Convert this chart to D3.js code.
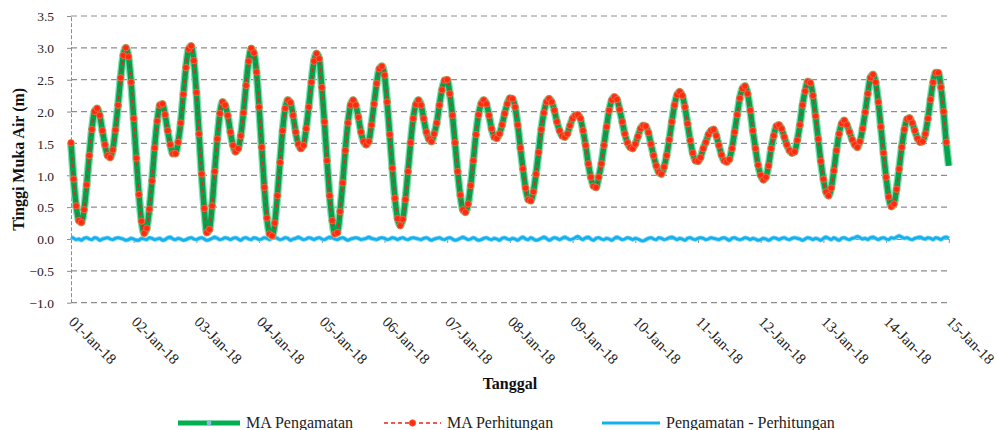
<!DOCTYPE html>
<html>
<head>
<meta charset="utf-8">
<script src="https://cdn.jsdelivr.net/npm/d3@7"></script>
<style>
  html, body { margin: 0; padding: 0; background: #ffffff; }
  svg { display: block; }
  svg text { font-family: "Liberation Serif", "DejaVu Serif", "Times New Roman", serif; }
</style>
</head>
<body>
<script>
// ---- Data (hourly, 01-Jan-18 00:00 .. 15-Jan-18 00:00) ----
const startDate = new Date(2018, 0, 1, 0, 0);
const dayTicks = ["01-Jan-18","02-Jan-18","03-Jan-18","04-Jan-18","05-Jan-18","06-Jan-18","07-Jan-18",
                  "08-Jan-18","09-Jan-18","10-Jan-18","11-Jan-18","12-Jan-18","13-Jan-18","14-Jan-18","15-Jan-18"];
const yTicks = [-1.0,-0.5,0.0,0.5,1.0,1.5,2.0,2.5,3.0,3.5];
const seriesNames = ["MA Pengamatan","MA Perhitungan","Pengamatan - Perhitungan"];

// MA Pengamatan (observed water level, m)
const maPengamatan = [
1.51,0.94,0.52,0.29,0.26,0.46,0.85,1.31,1.72,2.00,2.05,1.94,1.70,1.48,1.31,1.28,1.40,1.71,2.10,2.53,2.88,3.00,2.86,2.46,
1.89,1.27,0.70,0.28,0.09,0.17,0.47,0.91,1.43,1.85,2.10,2.12,1.95,1.70,1.48,1.34,1.34,1.52,1.82,2.27,2.69,2.98,3.03,2.80,
2.30,1.65,1.02,0.48,0.10,0.15,0.52,1.06,1.57,1.97,2.15,2.10,1.94,1.68,1.47,1.37,1.42,1.62,1.98,2.41,2.79,2.99,2.92,2.62,
2.07,1.44,0.81,0.33,0.08,0.05,0.25,0.68,1.20,1.70,2.05,2.18,2.14,1.94,1.68,1.49,1.42,1.47,1.73,2.07,2.46,2.79,2.91,2.83,
2.38,1.84,1.23,0.68,0.29,0.08,0.10,0.43,0.88,1.39,1.82,2.10,2.18,2.10,1.91,1.68,1.53,1.48,1.53,1.79,2.12,2.44,2.67,2.71,
2.57,2.15,1.64,1.11,0.64,0.32,0.21,0.31,0.62,1.06,1.51,1.89,2.11,2.18,2.10,1.89,1.68,1.57,1.53,1.65,1.82,2.10,2.34,2.49,
2.50,2.28,1.94,1.51,1.06,0.69,0.46,0.42,0.55,0.84,1.23,1.64,1.95,2.12,2.18,2.12,1.94,1.73,1.60,1.58,1.65,1.79,1.97,2.12,
2.21,2.20,2.07,1.79,1.43,1.10,0.80,0.62,0.60,0.74,1.02,1.36,1.72,1.98,2.15,2.20,2.15,2.02,1.84,1.70,1.62,1.60,1.65,1.78,
1.89,1.94,1.95,1.89,1.70,1.47,1.18,0.97,0.83,0.81,0.97,1.18,1.47,1.76,2.02,2.18,2.23,2.19,2.03,1.84,1.65,1.51,1.44,1.42,
1.49,1.61,1.73,1.78,1.77,1.67,1.49,1.31,1.15,1.05,1.02,1.13,1.31,1.56,1.84,2.10,2.26,2.31,2.25,2.07,1.81,1.55,1.35,1.23,
1.22,1.28,1.42,1.52,1.64,1.70,1.72,1.62,1.47,1.32,1.23,1.21,1.25,1.42,1.68,1.95,2.21,2.36,2.40,2.28,2.02,1.70,1.42,1.16,
1.00,0.93,0.97,1.15,1.42,1.62,1.77,1.79,1.73,1.60,1.48,1.39,1.35,1.37,1.55,1.79,2.10,2.32,2.47,2.45,2.25,1.93,1.57,1.22,
0.94,0.74,0.68,0.80,1.07,1.39,1.65,1.81,1.86,1.79,1.68,1.56,1.48,1.44,1.53,1.73,1.99,2.28,2.53,2.58,2.46,2.15,1.76,1.35,
0.97,0.66,0.51,0.55,0.78,1.10,1.44,1.72,1.88,1.90,1.82,1.70,1.58,1.52,1.53,1.65,1.89,2.19,2.46,2.61,2.61,2.38,2.00,1.52,
1.15
];

// MA Perhitungan (computed water level, m)
const maPerhitungan = [
1.51,0.94,0.52,0.29,0.26,0.46,0.85,1.31,1.72,2.00,2.05,1.94,1.70,1.48,1.31,1.28,1.40,1.71,2.10,2.53,2.88,3.00,2.86,2.46,
1.89,1.27,0.70,0.28,0.09,0.17,0.47,0.91,1.43,1.85,2.10,2.12,1.95,1.70,1.48,1.34,1.34,1.52,1.82,2.27,2.69,2.98,3.03,2.80,
2.30,1.65,1.02,0.48,0.10,0.15,0.52,1.06,1.57,1.97,2.15,2.10,1.94,1.68,1.47,1.37,1.42,1.62,1.98,2.41,2.79,2.99,2.92,2.62,
2.07,1.44,0.81,0.33,0.08,0.05,0.25,0.68,1.20,1.70,2.05,2.18,2.14,1.94,1.68,1.49,1.42,1.47,1.73,2.07,2.46,2.79,2.91,2.83,
2.38,1.84,1.23,0.68,0.29,0.08,0.10,0.43,0.88,1.39,1.82,2.10,2.18,2.10,1.91,1.68,1.53,1.48,1.53,1.79,2.12,2.44,2.67,2.71,
2.57,2.15,1.64,1.11,0.64,0.32,0.21,0.31,0.62,1.06,1.51,1.89,2.11,2.18,2.10,1.89,1.68,1.57,1.53,1.65,1.82,2.10,2.34,2.49,
2.50,2.28,1.94,1.51,1.06,0.69,0.46,0.42,0.55,0.84,1.23,1.64,1.95,2.12,2.18,2.12,1.94,1.73,1.60,1.58,1.65,1.79,1.97,2.12,
2.21,2.20,2.07,1.79,1.43,1.10,0.80,0.62,0.60,0.74,1.02,1.36,1.72,1.98,2.15,2.20,2.15,2.02,1.84,1.70,1.62,1.60,1.65,1.78,
1.89,1.94,1.95,1.89,1.70,1.47,1.18,0.97,0.83,0.81,0.97,1.18,1.47,1.76,2.02,2.18,2.23,2.19,2.03,1.84,1.65,1.51,1.44,1.42,
1.49,1.61,1.73,1.78,1.77,1.67,1.49,1.31,1.15,1.05,1.02,1.13,1.31,1.56,1.84,2.10,2.26,2.31,2.25,2.07,1.81,1.55,1.35,1.23,
1.22,1.28,1.42,1.52,1.64,1.70,1.72,1.62,1.47,1.32,1.23,1.21,1.25,1.42,1.68,1.95,2.21,2.36,2.40,2.28,2.02,1.70,1.42,1.16,
1.00,0.93,0.97,1.15,1.42,1.62,1.77,1.79,1.73,1.60,1.48,1.39,1.35,1.37,1.55,1.79,2.10,2.32,2.47,2.45,2.25,1.93,1.57,1.22,
0.94,0.74,0.68,0.80,1.07,1.39,1.65,1.81,1.86,1.79,1.68,1.56,1.48,1.44,1.53,1.73,1.99,2.28,2.53,2.58,2.46,2.15,1.76,1.35,
0.97,0.66,0.51,0.55,0.78,1.10,1.44,1.72,1.88,1.90,1.82,1.70,1.58,1.52,1.53,1.65,1.89,2.19,2.46,2.61,2.61,2.38,2.00,1.52
];

// Pengamatan - Perhitungan (difference, m)
const selisih = [
0.03,0.01,-0.01,0.00,-0.02,0.01,0.02,0.00,-0.01,0.02,0.01,-0.02,0.00,0.01,0.02,0.00,-0.01,0.01,0.02,0.01,0.00,-0.02,-0.01,0.01,
0.00,-0.02,-0.02,0.01,0.00,-0.01,0.02,0.01,-0.01,0.00,0.01,-0.02,-0.01,0.02,0.03,0.00,-0.01,0.01,0.00,-0.02,-0.01,0.01,0.02,0.00,
-0.01,0.01,0.02,0.00,-0.02,-0.01,0.01,0.03,0.01,-0.01,0.00,0.02,0.01,-0.01,0.01,0.02,0.00,-0.02,0.01,0.02,0.00,-0.01,0.02,0.01,
-0.01,0.00,0.02,0.01,-0.01,0.02,0.03,0.01,-0.01,0.00,0.02,0.01,-0.02,0.00,0.01,0.03,0.01,-0.01,0.00,0.02,0.01,-0.01,0.01,0.02,
0.00,-0.01,0.01,0.03,0.02,0.00,-0.01,0.01,0.02,0.00,-0.02,0.00,0.01,0.02,0.01,-0.01,0.00,0.01,0.03,0.01,0.00,-0.01,0.01,0.02,
0.01,-0.01,0.00,0.02,0.01,-0.01,0.01,0.02,0.00,-0.01,0.01,0.02,0.01,0.00,-0.01,0.01,0.02,0.00,-0.02,0.00,0.01,0.02,0.00,-0.01,
0.01,0.02,0.00,-0.02,-0.01,0.01,0.03,0.01,-0.01,0.00,0.02,0.00,-0.02,-0.01,0.01,0.02,0.00,-0.01,0.01,0.00,-0.02,0.01,0.02,0.00,
-0.01,0.01,0.00,-0.02,0.01,0.03,0.00,-0.01,0.02,0.00,-0.02,-0.01,0.01,0.03,0.01,-0.02,0.00,0.02,0.01,-0.01,0.01,0.03,0.01,-0.01,
0.00,0.02,0.04,0.01,-0.01,0.02,0.03,0.00,-0.02,0.01,0.02,0.00,-0.01,0.01,0.00,-0.02,0.01,0.03,0.01,-0.01,0.00,0.02,0.01,-0.01,
0.01,0.00,-0.02,-0.03,-0.01,0.01,0.02,0.00,-0.01,0.02,0.01,-0.01,0.00,0.02,0.03,0.01,-0.01,0.01,0.00,-0.02,0.01,0.02,0.00,-0.01,
0.01,0.02,0.01,-0.01,0.00,0.02,0.01,0.00,-0.01,0.01,0.02,0.00,-0.02,0.01,0.02,0.00,-0.01,0.00,0.02,0.01,-0.01,0.01,0.00,-0.02,
-0.01,0.01,0.00,-0.02,0.00,0.02,0.01,-0.01,0.01,0.02,0.00,-0.01,0.01,0.02,0.01,0.00,-0.02,0.00,0.02,0.01,-0.01,0.01,0.00,-0.02,
0.01,0.03,0.01,-0.01,0.02,0.00,-0.02,0.01,0.02,0.00,-0.01,0.01,0.02,0.04,0.02,0.00,0.01,-0.01,0.02,0.03,0.01,-0.01,0.01,0.02,
0.00,-0.01,0.02,0.01,0.03,0.05,0.03,0.01,0.02,0.00,-0.01,0.01,0.02,0.03,0.01,0.00,0.02,0.01,-0.01,0.02,0.01,-0.01,0.02,0.03,
0.01
];

// ---- Layout ----
const W = 997, H = 430;
const M = { left: 71, right: 48.2, top: 16, bottom: 127.3 };

const svg = d3.select("body").append("svg")
  .attr("width", W).attr("height", H)
  .style("background", "#ffffff");

const hourDate = i => d3.timeHour.offset(startDate, i);
const endDate = d3.timeDay.offset(startDate, dayTicks.length - 1);

const x = d3.scaleTime().domain([startDate, endDate]).range([M.left, W - M.right]);
const y = d3.scaleLinear().domain([yTicks[0], yTicks[yTicks.length - 1]]).range([H - M.bottom, M.top]);

const gridColor = "#8d8d8d";

// horizontal gridlines (dashed)
svg.append("g").selectAll("line")
  .data(yTicks.filter(v => v !== 0))
  .join("line")
  .attr("x1", x(startDate)).attr("x2", x(endDate))
  .attr("y1", d => y(d)).attr("y2", d => y(d))
  .attr("stroke", gridColor).attr("stroke-width", 1.2)
  .attr("stroke-dasharray", "6,4");

// y axis (dashed vertical line + ticks + labels)
const yAxis = d3.axisLeft(y).tickValues(yTicks).tickFormat(d3.format(".1f")).tickSize(4).tickSizeOuter(0);
const gy = svg.append("g").attr("transform", `translate(${M.left},0)`).call(yAxis);
gy.attr("font-family", null).attr("font-size", null);
gy.select(".domain").attr("stroke", gridColor).attr("stroke-width", 1).attr("stroke-dasharray", "4,2");
gy.selectAll(".tick line").attr("stroke", gridColor);
gy.selectAll(".tick text")
  .style("font-size", "13.5px").attr("fill", "#222")
  .attr("x", -17).attr("dy", "0.35em");

// horizontal axis at y = 0 (ticks), labels at the bottom
const dayDates = dayTicks.map((_, i) => d3.timeDay.offset(startDate, i));
const xAxis = d3.axisBottom(x).tickValues(dayDates).tickSize(4).tickSizeOuter(0).tickFormat("");
const gx = svg.append("g").attr("transform", `translate(0,${y(0)})`).call(xAxis);
gx.select(".domain").attr("stroke", gridColor).attr("stroke-width", 1.2);
gx.selectAll(".tick line").attr("stroke", gridColor);

svg.append("g").selectAll("text")
  .data(dayTicks)
  .join("text")
  .attr("transform", (d, i) => `translate(${x(dayDates[i]) - 3},${y(yTicks[0]) + 20}) rotate(45)`)
  .style("font-size", "15px").attr("fill", "#222")
  .attr("text-anchor", "start")
  .text(d => d);

// ---- Series ----
const line = d3.line().x((d, i) => x(hourDate(i))).y(d => y(d)).curve(d3.curveMonotoneX);

svg.append("path").datum(selisih)
  .attr("d", line).attr("fill", "none")
  .attr("stroke", "#8ad8f6").attr("stroke-width", 4.5).attr("stroke-linejoin", "round");
svg.append("path").datum(selisih)
  .attr("d", line).attr("fill", "none")
  .attr("stroke", "#13b2ef").attr("stroke-width", 2.8).attr("stroke-linejoin", "round");

svg.append("path").datum(maPengamatan)
  .attr("d", line).attr("fill", "none")
  .attr("stroke", "#86dcaa").attr("stroke-width", 8).attr("stroke-linejoin", "round");
svg.append("path").datum(maPengamatan)
  .attr("d", line).attr("fill", "none")
  .attr("stroke", "#00a550").attr("stroke-width", 5.5).attr("stroke-linejoin", "round");

svg.append("g").selectAll("circle")
  .data(maPengamatan.slice(0, maPerhitungan.length))
  .join("circle")
  .attr("cx", (d, i) => x(hourDate(i))).attr("cy", d => y(d))
  .attr("r", 3).attr("fill", "#8fb8e0");

svg.append("path").datum(maPerhitungan)
  .attr("d", line).attr("fill", "none")
  .attr("stroke", "#e8241c").attr("stroke-width", 1.4).attr("stroke-dasharray", "4,3");

svg.append("g").selectAll("circle")
  .data(maPerhitungan)
  .join("circle")
  .attr("cx", (d, i) => x(hourDate(i))).attr("cy", d => y(d))
  .attr("r", 3.2).attr("fill", "#ff2a10").attr("stroke", "#f26a40").attr("stroke-width", 0.9);

// ---- Axis titles ----
svg.append("text")
  .attr("transform", `translate(24,${(y(yTicks[0]) + y(yTicks[yTicks.length - 1])) / 2}) rotate(-90)`)
  .attr("text-anchor", "middle")
  .style("font-size", "16px").attr("font-weight", "bold").attr("fill", "#111")
  .text("Tinggi Muka Air (m)");

svg.append("text")
  .attr("x", (M.left + W - M.right) / 2).attr("y", 389)
  .attr("text-anchor", "middle")
  .style("font-size", "16px").attr("font-weight", "bold").attr("fill", "#111")
  .text("Tanggal");

// ---- Legend ----
const legendY = 423;
const legendItems = [
  { name: seriesNames[0], x1: 178, x2: 240 },
  { name: seriesNames[1], x1: 384, x2: 441 },
  { name: seriesNames[2], x1: 602, x2: 660 }
];
const lg = svg.append("g");
lg.append("line").attr("x1", legendItems[0].x1).attr("x2", legendItems[0].x2)
  .attr("y1", legendY).attr("y2", legendY).attr("stroke", "#00b050").attr("stroke-width", 5);
lg.append("circle").attr("cx", (legendItems[0].x1 + legendItems[0].x2) / 2).attr("cy", legendY)
  .attr("r", 2.4).attr("fill", "#8fb8e0");
lg.append("line").attr("x1", legendItems[1].x1).attr("x2", legendItems[1].x2)
  .attr("y1", legendY).attr("y2", legendY).attr("stroke", "#e8241c").attr("stroke-width", 1.4)
  .attr("stroke-dasharray", "4,3");
lg.append("circle").attr("cx", (legendItems[1].x1 + legendItems[1].x2) / 2).attr("cy", legendY)
  .attr("r", 3.2).attr("fill", "#ff2a10").attr("stroke", "#f26a40").attr("stroke-width", 0.9);
lg.append("line").attr("x1", legendItems[2].x1).attr("x2", legendItems[2].x2)
  .attr("y1", legendY).attr("y2", legendY).attr("stroke", "#13b2ef").attr("stroke-width", 3.2);
lg.selectAll("text").data(legendItems).join("text")
  .attr("x", d => d.x2 + 6).attr("y", legendY + 5)
  .style("font-size", "16px").attr("fill", "#222")
  .text(d => d.name);
</script>
</body>
</html>
